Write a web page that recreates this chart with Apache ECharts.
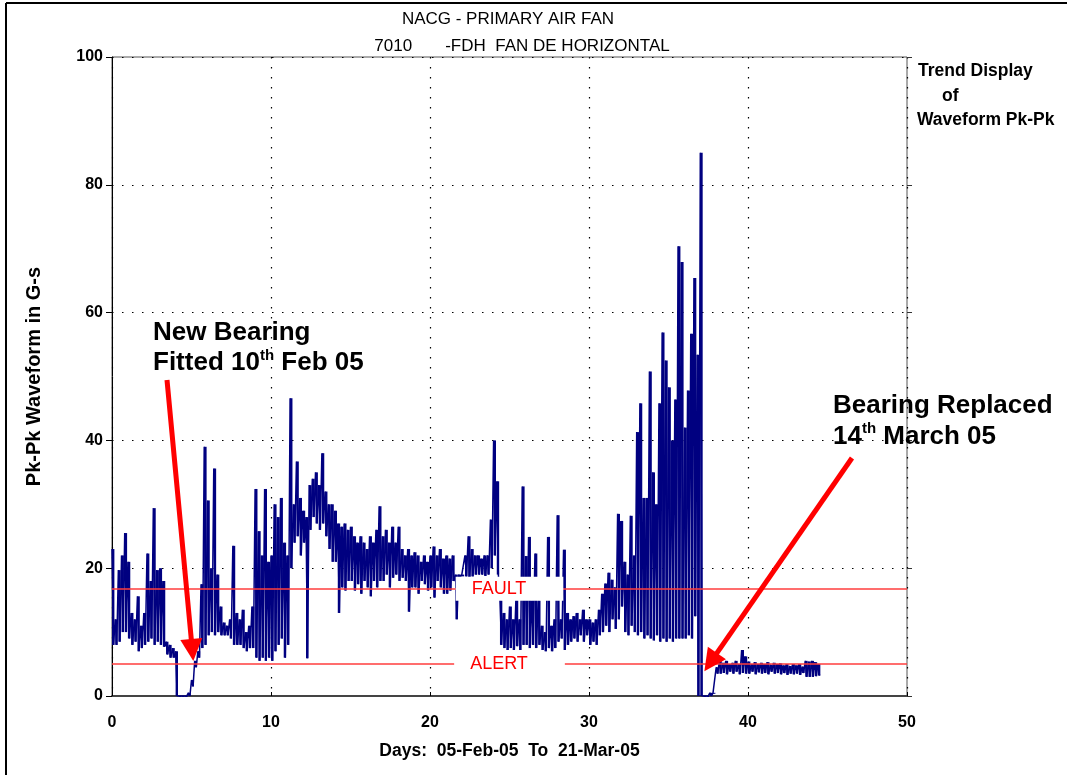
<!DOCTYPE html>
<html>
<head>
<meta charset="utf-8">
<title>NACG - PRIMARY AIR FAN</title>
<script src="https://cdn.jsdelivr.net/npm/echarts@6/dist/echarts.min.js"></script>
<style>
html,body{margin:0;padding:0;background:#fff;}
#chart{width:1067px;height:775px;}
</style>
</head>
<body>
<div id="chart"></div>
<script>
'use strict';

// one sample every 0.2 day, high and low of the waveform in each slot
var sampleStep = 0.2;
var pkHigh = [
    23, 12, 19.7, 22, 25.5,        // day 0
    21, 13, 12, 15.6, 11,          // 1
    13, 22.3, 18, 29.4, 19.7,      // 2
    20, 18, 8.5, 8, 7.5,           // 3
    7, 0, 0, 0, 0.5,               // 4
    2.5, 5.5, 7, 17.5, 39,         // 5
    30.6, 20, 35.6, 19, 14,        // 6
    11.5, 11, 12, 23.5, 13,        // 7
    12, 13.5, 10, 11, 14,          // 8
    32.4, 25.8, 22, 32.4, 21,      // 9
    22, 30, 28, 31, 24,            // 10
    22, 46.6, 30, 36.7, 31,        // 11
    29, 28, 33, 34, 35,            // 12
    33, 38, 32, 30, 30,            // 13
    29, 27, 26.5, 27, 26,          // 14
    26.5, 25, 24, 25, 24,          // 15
    23, 25, 24, 26, 29.7,          // 16
    25, 26, 24, 26.5, 24,          // 17
    26.5, 23, 22, 23, 22,          // 18
    22.5, 22, 21, 22, 21,          // 19
    22, 23.4, 22, 23, 21.5,        // 20
    22, 21.5, 22, 19, 19,          // 21
    19, 22, 25, 23, 22,            // 22
    22, 21.5, 22, 22, 27.6,        // 23
    40, 33.6, 15, 13, 12,          // 24
    14, 12, 15, 12, 32.8,          // 25
    21.9, 24.9, 15, 22.3, 15,      // 26
    11, 10, 24.9, 11, 12,          // 27
    28.3, 12, 22.9, 13, 12,        // 28
    12.5, 13, 12, 13.5, 12,        // 29
    12, 11.5, 12, 13.5, 16,        // 30
    17.6, 19.3, 18.2, 17, 28.5,    // 31
    27.4, 21, 19, 28.2, 22,        // 32
    41.3, 45.8, 31, 31, 50.8,      // 33
    35, 30, 45.8, 56.9, 52.5,      // 34
    48.3, 40, 46.4, 70.4, 67.9,    // 35
    42, 47.8, 56.7, 65.4, 53.4,    // 36
    85, 0, 0, 0.5, 0.5,            // 37
    4.5, 5.5, 5.2, 5.5, 5,         // 38
    5.2, 5.5, 5, 7.2, 6.2,         // 39
    5.4, 5, 5.3, 5, 5.2,           // 40
    5, 5.3, 4.9, 5.2, 5,           // 41
    5.1, 4.8, 5, 4.7, 5,           // 42
    4.8, 5, 4.6, 5.5, 5.4,         // 43
    5.5, 5.3, 5                    // 44
];
var pkLow = [
    8, 8, 8.5, 10, 10,
    9, 8, 8.5, 7, 7.5,
    8, 8.5, 9, 8, 8.5,
    8, 7.7, 6.5, 6, 6,
    0, 0, 0, 0, 0,
    1.5, 4.5, 6, 7.5, 8,
    9.5, 10, 9.5, 10, 9.5,
    9.5, 9.5, 9, 8, 8,
    8, 7.5, 7, 7.5, 7.5,
    6, 5.5, 6, 5.5, 6,
    5.5, 7, 8, 9, 6,
    8, 20, 24, 25, 22,
    24, 5.9, 26, 28, 27,
    26, 27, 25, 23, 21,
    21, 13, 17, 16.5, 18,
    18, 16.5, 17.5, 16, 18,
    17, 15.6, 18, 17, 18,
    18, 19, 17, 18.5, 19,
    18, 18.5, 18, 13.2, 17,
    17, 16, 18, 17.5, 16.5,
    17, 15.4, 18, 17, 16,
    16, 16.5, 18, 12, 18.5,
    18.7, 18.7, 18.5, 18.7, 19,
    19, 19, 18.8, 19, 20,
    22, 19, 8, 7.5, 7.2,
    7.5, 7.2, 7.8, 7.2, 8,
    8, 7.5, 8, 7.5, 8,
    7.2, 7, 7.5, 7, 7.5,
    8.5, 9, 7.2, 8, 8.5,
    9, 8.5, 9.5, 8.5, 9.5,
    8, 8.5, 8, 9.5, 10,
    11, 10, 12, 10.5, 12,
    14, 10, 9.5, 11, 10,
    9.5, 10, 9, 9.5, 9,
    8.7, 9.5, 8.5, 9, 8.5,
    9, 8.5, 9, 9, 9,
    9, 9.5, 9, 12.5, 0,
    0, 0, 0, 0, 0.5,
    3.5, 3.5, 3.6, 3.4, 3.8,
    3.5, 3.8, 3.4, 3.6, 3.5,
    3.5, 3.8, 3.4, 3.7, 3.5,
    3.6, 3.4, 3.8, 3.5, 3.6,
    3.4, 3.6, 3.3, 3.5, 3.4,
    3.5, 3.3, 3.6, 3.0, 3.0,
    3.0, 3.1, 3.2
];

var faultLevel = 16.8;
var alertLevel = 5;

var titleLines = ['NACG - PRIMARY AIR FAN', '7010       -FDH  FAN DE HORIZONTAL'];
var xName = 'Days:  05-Feb-05  To  21-Mar-05';
var yName = 'Pk-Pk Waveform in G-s';

var FONT = '"Liberation Sans", Arial, sans-serif';
var NAVY = '#000080';

// hi/lo zigzag so the trend is drawn as the dense band of the original plot
var waveData = [];
var bandData = [];
for (var i = 0; i < pkHigh.length; i++) {
    var d = Math.round(i * sampleStep * 100) / 100;
    waveData.push([d, pkHigh[i]]);
    waveData.push([Math.round((d + sampleStep / 2) * 100) / 100, pkLow[i]]);
    bandData.push([d, pkLow[i], pkHigh[i]]);
}

/**
 * @method one filled stroke from low to high for each sample slot
 */
function renderBand(params, api) {
    var x = api.value(0);
    var top = api.coord([x, api.value(2)]);
    var bottom = api.coord([x, api.value(1)]);
    var w = api.size([sampleStep, 0])[0];
    return {
        type: 'rect',
        shape: {x: top[0], y: top[1], width: w * 0.75, height: Math.max(bottom[1] - top[1], 1)},
        style: {fill: NAVY}
    };
}

var myChart = echarts.init(document.getElementById('chart'));

var option = {
    backgroundColor: '#fff',
    animation: false,
    title: [
        {text: titleLines[0], left: 503, top: 6, textAlign: 'center',
            textStyle: {fontSize: 17, fontWeight: 'normal', color: '#000', fontFamily: FONT}},
        {text: titleLines[1], left: 517, top: 33, textAlign: 'center',
            textStyle: {fontSize: 17, fontWeight: 'normal', color: '#000', fontFamily: FONT}}
    ],
    grid: {
        left: 112, right: 160, top: 57, bottom: 79,
        show: true, borderColor: '#555', borderWidth: 1
    },
    xAxis: {
        type: 'value', min: 0, max: 50, interval: 10,
        name: xName, nameLocation: 'middle', nameGap: 46,
        nameTextStyle: {fontSize: 17.5, fontWeight: 'bold', color: '#000', fontFamily: FONT},
        axisLine: {show: true, lineStyle: {color: '#444', width: 2}},
        axisTick: {show: true, inside: true, length: 4, lineStyle: {color: '#000'}},
        axisLabel: {margin: 19, fontSize: 16, fontWeight: 'bold', color: '#000', fontFamily: FONT},
        splitLine: {show: true, lineStyle: {color: '#000', width: 1.2, type: [1.5, 8.5]}}
    },
    yAxis: [
        {
            type: 'value', min: 0, max: 100, interval: 20,
            name: yName, nameLocation: 'middle', nameGap: 68, nameRotate: 90,
            nameTextStyle: {fontSize: 20, fontWeight: 'bold', color: '#000', fontFamily: FONT},
            axisLine: {show: true, lineStyle: {color: '#000', width: 1}},
            axisTick: {show: true, length: 6, lineStyle: {color: '#000'}},
            axisLabel: {margin: 9, fontSize: 16, fontWeight: 'bold', color: '#000', fontFamily: FONT},
            splitLine: {show: true, lineStyle: {color: '#000', width: 1.2, type: [1.5, 8.5]}}
        },
        {
            type: 'value', min: 0, max: 100, interval: 20, position: 'right',
            axisLine: {show: false},
            axisTick: {show: true, length: 5, lineStyle: {color: '#333'}},
            axisLabel: {show: false},
            splitLine: {show: false}
        }
    ],
    series: [
        {
            name: 'band',
            type: 'custom',
            data: bandData,
            encode: {x: 0, y: [1, 2]},
            renderItem: renderBand,
            silent: true,
            z: 2
        },
        {
            name: 'Waveform Pk-Pk',
            type: 'line',
            data: waveData,
            symbol: 'none',
            showSymbol: false,
            sampling: null,
            lineStyle: {color: NAVY, width: 1.5},
            z: 3,
            markLine: {
                silent: true,
                symbol: 'none',
                animation: false,
                lineStyle: {color: '#ff3c3c', width: 1.6, type: 'solid'},
                label: {
                    show: true, position: 'insideMiddle', formatter: '{b}',
                    color: '#ff0000', fontSize: 18, fontFamily: FONT,
                    backgroundColor: '#fff', padding: [3, 37, 3, 16]
                },
                data: [
                    {name: 'FAULT', yAxis: faultLevel},
                    {name: 'ALERT', yAxis: alertLevel}
                ]
            }
        },
        {
            // red arrows pointing at the two bearing changes
            name: 'arrows',
            type: 'line',
            data: [],
            z: 6,
            markLine: {
                silent: true,
                animation: false,
                symbol: ['none', 'triangle'],
                symbolSize: 22,
                lineStyle: {color: '#ff0000', width: 5, type: 'solid'},
                label: {show: false},
                data: [
                    [{coord: [3.46, 49.45]}, {coord: [5.05, 7.2]}],
                    [{coord: [46.54, 37.25]}, {coord: [37.65, 5.3]}]
                ]
            }
        }
    ],
    graphic: [
        {type: 'line', shape: {x1: 6, y1: 3, x2: 6, y2: 775}, style: {stroke: '#000', lineWidth: 2}},
        {type: 'line', shape: {x1: 6, y1: 3, x2: 1067, y2: 3}, style: {stroke: '#000', lineWidth: 2}},
        {type: 'text', x: 918, y: 62, style: {text: 'Trend Display', fontSize: 17.5, fontWeight: 'bold', fontFamily: FONT, fill: '#000'}},
        {type: 'text', x: 942, y: 87, style: {text: 'of', fontSize: 17.5, fontWeight: 'bold', fontFamily: FONT, fill: '#000'}},
        {type: 'text', x: 917, y: 111, style: {text: 'Waveform Pk-Pk', fontSize: 17.5, fontWeight: 'bold', fontFamily: FONT, fill: '#000'}},
        {
            type: 'text', x: 153, y: 318, z: 10,
            style: {
                text: 'New Bearing\nFitted 10{sup|th} Feb 05',
                fontSize: 26, fontWeight: 'bold', fontFamily: FONT, fill: '#000', lineHeight: 30,
                rich: {sup: {fontSize: 15, fontWeight: 'bold', fontFamily: FONT, verticalAlign: 'top', lineHeight: 15, fill: '#000'}}
            }
        },
        {
            type: 'text', x: 833, y: 390, z: 10,
            style: {
                text: 'Bearing Replaced\n14{sup|th} March 05',
                fontSize: 26, fontWeight: 'bold', fontFamily: FONT, fill: '#000', lineHeight: 31,
                rich: {sup: {fontSize: 15, fontWeight: 'bold', fontFamily: FONT, verticalAlign: 'top', lineHeight: 15, fill: '#000'}}
            }
        }
    ]
};

myChart.setOption(option);
</script>
</body>
</html>
